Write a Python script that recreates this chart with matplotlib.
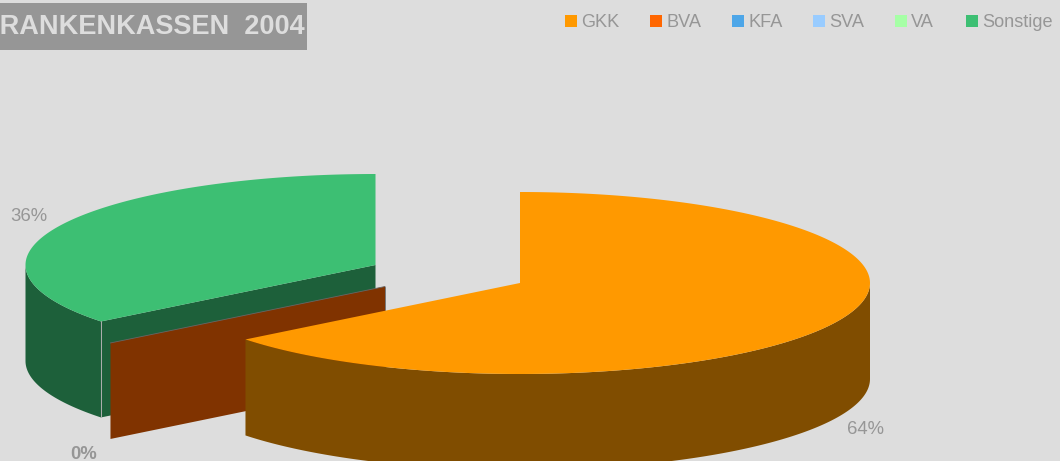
import numpy as np
import matplotlib
matplotlib.use('Agg')
import matplotlib.pyplot as plt
from matplotlib.patches import Polygon, Rectangle

plt.rcParams['font.family'] = ['Liberation Sans', 'DejaVu Sans']

title = 'KRANKENKASSEN  2004'
categories = ['GKK', 'BVA', 'KFA', 'SVA', 'VA', 'Sonstige']
values = [64.35, 0, 0, 0, 0, 35.65]
colors = ['#ff9900', '#ff6600', '#4da6e8', '#99ccff', '#a6ffa6', '#3dbf73']
side_colors = ['#804d00', '#803300', '#26537a', '#4d667f', '#537f53', '#1d603a']

# slice centres in pixels, the pie is exploded
centers = {'GKK': (520, 283), 'BVA': (385, 286.5), 'Sonstige': (375.5, 265)}
RX, RY, DEPTH = 350, 91, 96
BG = '#dddddd'
GREY = '#969696'


def rim(center, start, end):
    # angles in degrees clockwise from 12 o'clock
    t = np.radians(np.linspace(start, end, 200))
    return center[0] + RX * np.sin(t), center[1] - RY * np.cos(t)


def draw_slice(ax, name, start, end, z):
    i = categories.index(name)
    cx, cy = centers[name]
    # cut face at the end of the slice that looks to the viewer
    if name != 'GKK':
        x, y = rim((cx, cy), start, start)
        face = [(cx, cy), (x[0], y[0]), (x[0], y[0] + DEPTH), (cx, cy + DEPTH)]
        ax.add_patch(Polygon(face, fc=side_colors[i], ec='none', zorder=z))
    if end <= start:
        ax.plot([cx, x[0]], [cy, y[0]], color='#666666', lw=0.6, zorder=z)
        ax.plot([cx, cx], [cy, cy + DEPTH], color='#666666', lw=0.6, zorder=z)
        return
    # outer wall, only the part in front
    if name == 'GKK':
        x, y = rim((cx, cy), 90, end)
    else:
        x, y = rim((cx, cy), start, 270)
    wall = np.column_stack([np.r_[x, x[::-1]], np.r_[y, y[::-1] + DEPTH]])
    ax.add_patch(Polygon(wall, fc=side_colors[i], ec='none', zorder=z))
    # top
    x, y = rim((cx, cy), start, end)
    top = np.column_stack([np.r_[cx, x], np.r_[cy, y]])
    ax.add_patch(Polygon(top, fc=colors[i], ec='none', zorder=z + 0.5))
    if name == 'Sonstige':
        x0, y0 = rim((cx, cy), start, start)
        ax.plot([x0[0], x0[0]], [y0[0], y0[0] + DEPTH], color='#b0b0b0', lw=0.7, zorder=z + 0.2)


fig = plt.figure(figsize=(10.6, 4.61), dpi=100, facecolor=BG)
ax = fig.add_axes([0, 0, 1, 1])
ax.set_xlim(0, 1060)
ax.set_ylim(461, 0)
ax.axis('off')

shares = np.array(values) / sum(values) * 360
starts = np.r_[0, np.cumsum(shares)[:-1]]
ends = np.cumsum(shares)

draw_slice(ax, 'Sonstige', starts[5], ends[5], 1)
draw_slice(ax, 'BVA', starts[1], ends[1], 2)
draw_slice(ax, 'GKK', starts[0], ends[0], 3)

# title box, the first letter is cut off at the figure edge
ax.add_patch(Rectangle((0, 3), 307, 47, fc=GREY, ec='none', zorder=20))
ax.text(305, 27, title, color=BG, fontsize=19.5, fontweight='bold', ha='right', va='center', zorder=21, clip_on=True)

# legend
box_x = [565, 650, 732, 813, 895, 966]
for i, name in enumerate(categories):
    ax.add_patch(Rectangle((box_x[i], 15), 12, 12, fc=colors[i], ec='none', zorder=20))
    ax.text(box_x[i] + 16, 20.5, name, color=GREY, fontsize=13.1, ha='left', va='center_baseline', zorder=21)

# data labels
ax.text(29, 216, '%d%%' % round(values[5]), color=GREY, fontsize=13.3, ha='center', va='center', zorder=21)
ax.text(866, 429, '%d%%' % round(values[0]), color=GREY, fontsize=13.3, ha='center', va='center', zorder=21)
ax.text(83.5, 454, '%d%%' % round(values[1]), color=GREY, fontsize=13.3, fontweight='bold', ha='center', va='center', zorder=21)

fig.savefig('out.png', dpi=100, facecolor=BG)
